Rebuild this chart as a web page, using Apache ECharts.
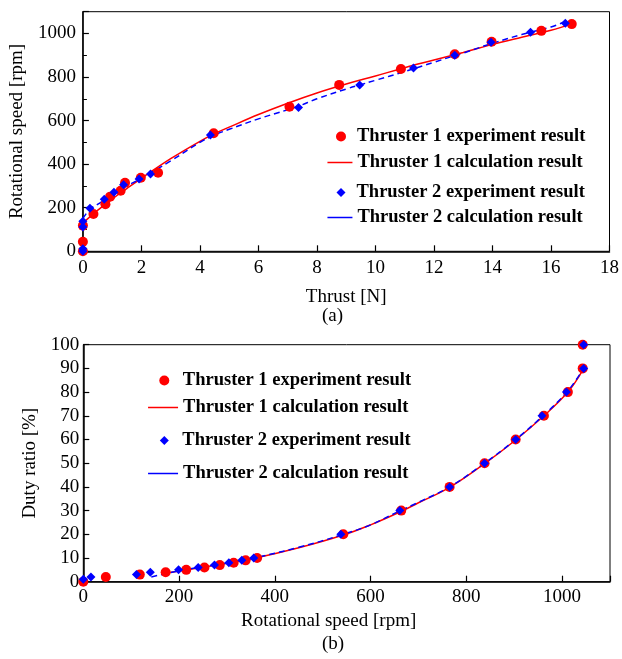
<!DOCTYPE html>
<html><head><meta charset="utf-8">
<script src="https://cdn.jsdelivr.net/npm/echarts@6/dist/echarts.min.js"></script>
<style>html,body{margin:0;padding:0;background:#fff}#c{width:622px;height:659px}</style>
</head><body><div id="c"></div>
<script>
// ---------- (a) Thrust vs rotational speed ----------
const aT1ExpThrust = [0, 0, 0, 0.36, 0.77, 0.93, 1.29, 1.44, 1.98, 2.57, 4.47, 7.06, 8.76, 10.87, 12.71, 13.97, 15.67, 16.71];
const aT1ExpRpm    = [0, 44, 118, 171, 216, 251, 278, 315, 338, 361, 542, 664, 764, 837, 905, 962, 1012, 1043];
const aT2ExpThrust = [0, 0, 0, 0, 0.24, 0.73, 1.06, 1.39, 1.92, 2.31, 4.36, 7.37, 9.46, 11.3, 12.71, 13.95, 15.3, 16.49];
const aT2ExpRpm    = [0, 12, 112, 138, 198, 239, 271, 305, 332, 355, 534, 660, 763, 841, 900, 960, 1006, 1047];
const aT1CalThrust = [0, 0.5, 1, 1.5, 2, 3, 4, 4.5, 5, 6, 7, 8, 9, 10, 11, 12, 13, 14, 15, 16, 16.7];
const aT1CalRpm    = [130, 188, 240, 288, 335, 425, 505, 540, 570, 628, 680, 727, 768, 805, 843, 878, 913, 950, 983, 1015, 1043];
const aT2CalThrust = [0, 0.25, 0.5, 1, 1.5, 2, 3, 4, 4.4, 5, 6, 7, 7.4, 8, 9, 9.5, 10, 11, 12, 12.7, 13, 14, 15, 16, 16.5];
const aT2CalRpm    = [150, 195, 215, 260, 300, 335, 415, 500, 528, 560, 608, 650, 668, 700, 745, 765, 785, 825, 868, 898, 910, 955, 995, 1030, 1055];
const aXTicks = [0, 2, 4, 6, 8, 10, 12, 14, 16, 18];
const aYTicks = [0, 200, 400, 600, 800, 1000];

// ---------- (b) Rotational speed vs duty ratio ----------
const bT1ExpRpm  = [0, 47, 118, 172, 215, 253, 285, 314, 339, 363, 543, 664, 765, 838, 903, 962, 1012, 1043, 1043];
const bT1ExpDuty = [0, 2, 3, 4, 5, 6, 7, 8, 9, 10, 20, 30, 40, 50, 60, 70, 80, 90, 100];
const bT2ExpRpm  = [0, 16, 111, 140, 199, 240, 274, 304, 331, 356, 538, 661, 765, 838, 903, 958, 1009, 1045, 1045];
const bT2ExpDuty = [1, 2, 3, 4, 5, 6, 7, 8, 9, 10, 20, 30, 40, 50, 60, 70, 80, 90, 100];
const bT1CalRpm  = [165, 200, 300, 360, 450, 543, 600, 664, 700, 765, 838, 903, 962, 1012, 1041];
const bT1CalDuty = [3.2, 4.5, 7.8, 10, 14.3, 19.7, 24, 29.7, 33.3, 39.8, 49.8, 59.8, 70, 80, 88.5];
const bT2CalRpm  = [142, 200, 300, 360, 450, 540, 600, 660, 700, 765, 838, 900, 960, 1010, 1045];
const bT2CalDuty = [2, 4.6, 7.9, 10.2, 14.5, 19.8, 24, 29.8, 33.5, 40, 50, 59.5, 70, 80, 90];

const names = ['Thruster 1 experiment result', 'Thruster 1 calculation result',
               'Thruster 2 experiment result', 'Thruster 2 calculation result'];

const zip = (a, b) => a.map((v, i) => [v, b[i]]);
const RED = '#ff0000', BLUE = '#0000ff';
const FONT = "'Liberation Serif', 'Times New Roman', serif";

function mkAxis(gi, min, max, interval, name, nameGap, opts) {
  return Object.assign({
    gridIndex: gi, type: 'value', min: min, max: max, interval: interval,
    name: name, nameLocation: 'middle', nameGap: nameGap,
    nameTextStyle: { fontFamily: FONT, fontSize: 19, color: '#000' },
    axisLine: { show: true, lineStyle: { color: '#000', width: 1.5 } },
    axisTick: { show: true, inside: true, length: 6, lineStyle: { color: '#000', width: 1.2 } },
    axisLabel: { fontFamily: FONT, fontSize: 19, color: '#000', margin: 7 },
    splitLine: { show: false }
  }, opts || {});
}

function scatter(name, data, xi, symbol, size, color) {
  return { name: name, type: 'scatter', xAxisIndex: xi, yAxisIndex: xi, data: data,
    symbol: symbol, symbolSize: size, itemStyle: { color: color, opacity: 1 }, z: 3 };
}
function line(name, data, xi, color, type) {
  return { name: name, type: 'line', xAxisIndex: xi, yAxisIndex: xi, data: data,
    smooth: 0.4, symbol: 'none', lineStyle: { color: color, width: 1.5, type: type },
    itemStyle: { color: color }, z: 2 };
}
function leg(name, left, top, w, h, isLine, padLeft) {
  const l = { data: [name], left: left, top: top, padding: 0, orient: 'horizontal',
    itemWidth: w, itemHeight: h, selectedMode: false, symbolKeepAspect: true,
    textStyle: { fontFamily: FONT, fontSize: 18.5, fontWeight: 'bold', color: '#000',
      padding: [0, 0, 0, padLeft] } };
  if (isLine) { l.itemStyle = { opacity: 0 }; l.lineStyle = { type: 'solid', width: 1.5 }; }
  return l;
}

const option = {
  animation: false,
  backgroundColor: '#fff',
  grid: [
    { left: 80.3, right: 11, top: 11.7, height: 239.6, show: true, borderColor: '#000', borderWidth: 1, backgroundColor: 'transparent' },
    { left: 83.3, right: 12, top: 344.7, height: 237, show: true, borderColor: '#000', borderWidth: 1, backgroundColor: 'transparent' }
  ],
  xAxis: [
    mkAxis(0, 0, 18, 2, 'Thrust [N]', 36, {
      axisLabel: { fontFamily: FONT, fontSize: 19, color: '#000', margin: 7,
        formatter: v => (aXTicks.indexOf(v) >= 0 ? String(v) : '') } }),
    mkAxis(1, 0, 1100, 200, 'Rotational speed [rpm]', 30, {
      axisLabel: { fontFamily: FONT, fontSize: 19, color: '#000', margin: 6,
        formatter: v => (v > 1000 ? '' : String(v)) },
      nameTextStyle: { fontFamily: FONT, fontSize: 19, color: '#000', padding: [0, 36, 0, 0] } })
  ],
  yAxis: [
    mkAxis(0, 0, 1100, 200, 'Rotational speed [rpm]', 52, {
      minorTick: { show: true, splitNumber: 2, length: 4, lineStyle: { color: '#000', width: 1 } },
      axisLabel: { fontFamily: FONT, fontSize: 19, color: '#000', margin: 7,
        formatter: v => (aYTicks.indexOf(v) >= 0 ? String(v) : '') } }),
    mkAxis(1, 0, 100, 10, 'Duty ratio [%]', 40, {
      axisLabel: { fontFamily: FONT, fontSize: 19, color: '#000', margin: 4 } })
  ],
  legend: [
    leg(names[0], 336, 127, 10, 10, false, 6),
    leg(names[1], 326.7, 153, 25, 10, true, 0),
    leg(names[2], 336.5, 183, 9, 9, false, 6),
    leg(names[3], 326.7, 208, 25, 10, true, 0),
    leg(names[0], 159.3, 371, 10, 10, false, 8.5),
    leg(names[1], 147.3, 398, 30, 10, true, 0),
    leg(names[2], 159.8, 431, 9, 9, false, 8.5),
    leg(names[3], 147.3, 464, 30, 10, true, 0)
  ],
  graphic: [
    { type: 'text', left: 322, top: 307, style: { text: '(a)', font: "19px " + FONT, fill: '#000' } },
    { type: 'text', left: 322, top: 635, style: { text: '(b)', font: "19px " + FONT, fill: '#000' } }
  ],
  series: [
    scatter(names[0], zip(aT1ExpThrust, aT1ExpRpm), 0, 'circle', 10, RED),
    line(names[1], zip(aT1CalThrust, aT1CalRpm), 0, RED, 'solid'),
    scatter(names[2], zip(aT2ExpThrust, aT2ExpRpm), 0, 'diamond', 9, BLUE),
    line(names[3], zip(aT2CalThrust, aT2CalRpm), 0, BLUE, [6, 4]),
    scatter(names[0], zip(bT1ExpRpm, bT1ExpDuty), 1, 'circle', 10, RED),
    line(names[1], zip(bT1CalRpm, bT1CalDuty), 1, RED, 'solid'),
    scatter(names[2], zip(bT2ExpRpm, bT2ExpDuty), 1, 'diamond', 9, BLUE),
    line(names[3], zip(bT2CalRpm, bT2CalDuty), 1, BLUE, [6, 4])
  ]
};
const chart = echarts.init(document.getElementById('c'), null, { renderer: 'canvas' });
chart.setOption(option);
</script></body></html>
